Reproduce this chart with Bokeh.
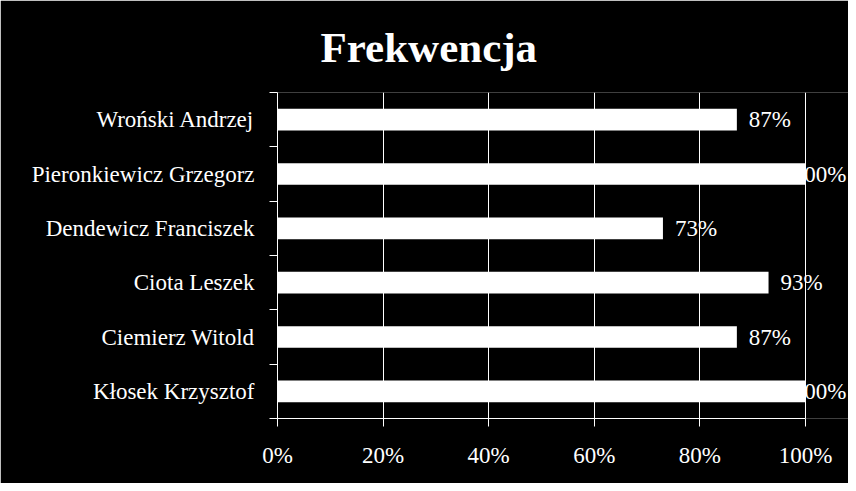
from bokeh.core.properties import value
from bokeh.embed import file_html
from bokeh.models import ColumnDataSource, FixedTicker
from bokeh.plotting import figure
from bokeh.resources import INLINE

# data, top to bottom as in the chart
names = ["Wroński Andrzej", "Pieronkiewicz Grzegorz", "Dendewicz Franciszek",
         "Ciota Leszek", "Ciemierz Witold", "Kłosek Krzysztof"]
attendance = [87, 100, 73, 93, 87, 100]
x_ticks = [0, 20, 40, 60, 80, 100]

FONT = "Liberation Serif"
SIZE = "23px"
n = len(names)
ypos = [n - i - 0.5 for i in range(n)]  # first name at the top
labels = [f"{v}%" for v in attendance]


def subset(keep):
    rows = [(y, v, l) for y, v, l in zip(ypos, attendance, labels) if keep(v)]
    return ColumnDataSource(data=dict(y=[r[0] for r in rows],
                                      v=[r[1] for r in rows],
                                      lab=[r[2] for r in rows]))


src = ColumnDataSource(data=dict(y=ypos, v=attendance, lab=labels))
part = subset(lambda v: v < 100)
full = subset(lambda v: v >= 100)

# frame runs to the right edge so that value labels are not clipped;
# axis and grid stop at 100%
W, H = 848, 483
left, top, bottom = 277, 92, 65
plot_px = 528  # pixels from 0% to 100%
x_end = 100 * (W - left) / plot_px

p = figure(width=W, height=H, x_range=(0, x_end), y_range=(0, n),
           output_backend="svg", toolbar_location=None,
           background_fill_color="black", border_fill_color="black",
           outline_line_color=None,
           min_border_left=left, min_border_right=0,
           min_border_top=top, min_border_bottom=bottom)

p.title.text = "Frekwencja"
p.title.text_color = "white"
p.title.text_font = FONT
p.title.text_font_size = "43px"
p.title.text_font_style = "bold"
p.title.align = "left"
p.title.offset = 43
p.title.standoff = 43

p.hbar(y="y", right="v", left=0, height=0.4, source=src,
       fill_color="white", line_color=None)

p.text(x="v", y="y", text="lab", source=part, x_offset=12,
       text_align="left", text_baseline="middle", text_color="white",
       text_font=value(FONT), text_font_size=SIZE)
# full bars: the label is pushed back inside the chart, its "1" sits on the bar
p.text(x="v", y="y", text="lab", source=full, x_offset=41,
       text_align="right", text_baseline="middle", text_color="white",
       text_font=value(FONT), text_font_size=SIZE)

# x axis
p.xaxis.bounds = (0, 100)
p.xaxis.ticker = FixedTicker(ticks=x_ticks)
p.xaxis.major_label_overrides = {t: f"{t}%" for t in x_ticks}
p.xaxis.axis_line_color = "white"
p.xaxis.major_tick_line_color = "white"
p.xaxis.major_tick_out = 8
p.xaxis.major_tick_in = 0
p.xaxis.minor_tick_line_color = None
p.xaxis.major_label_text_color = "white"
p.xaxis.major_label_text_font = FONT
p.xaxis.major_label_text_font_size = SIZE
p.xaxis.major_label_standoff = 16

# y axis: labels at centers, ticks at category borders
p.yaxis.ticker = FixedTicker(ticks=ypos, minor_ticks=list(range(n + 1)))
p.yaxis.major_label_overrides = {y: nm for y, nm in zip(ypos, names)}
p.yaxis.axis_line_color = "white"
p.yaxis.major_tick_line_color = None
p.yaxis.major_tick_out = 0
p.yaxis.major_tick_in = 0
p.yaxis.minor_tick_line_color = "white"
p.yaxis.minor_tick_out = 8
p.yaxis.minor_tick_in = 0
p.yaxis.major_label_text_color = "white"
p.yaxis.major_label_text_font = FONT
p.yaxis.major_label_text_font_size = SIZE
p.yaxis.major_label_standoff = 15

p.xgrid.grid_line_color = "white"
p.xgrid.bounds = (0, 100)
p.ygrid.grid_line_color = None

open("out.html", "w").write(file_html(p, INLINE))
